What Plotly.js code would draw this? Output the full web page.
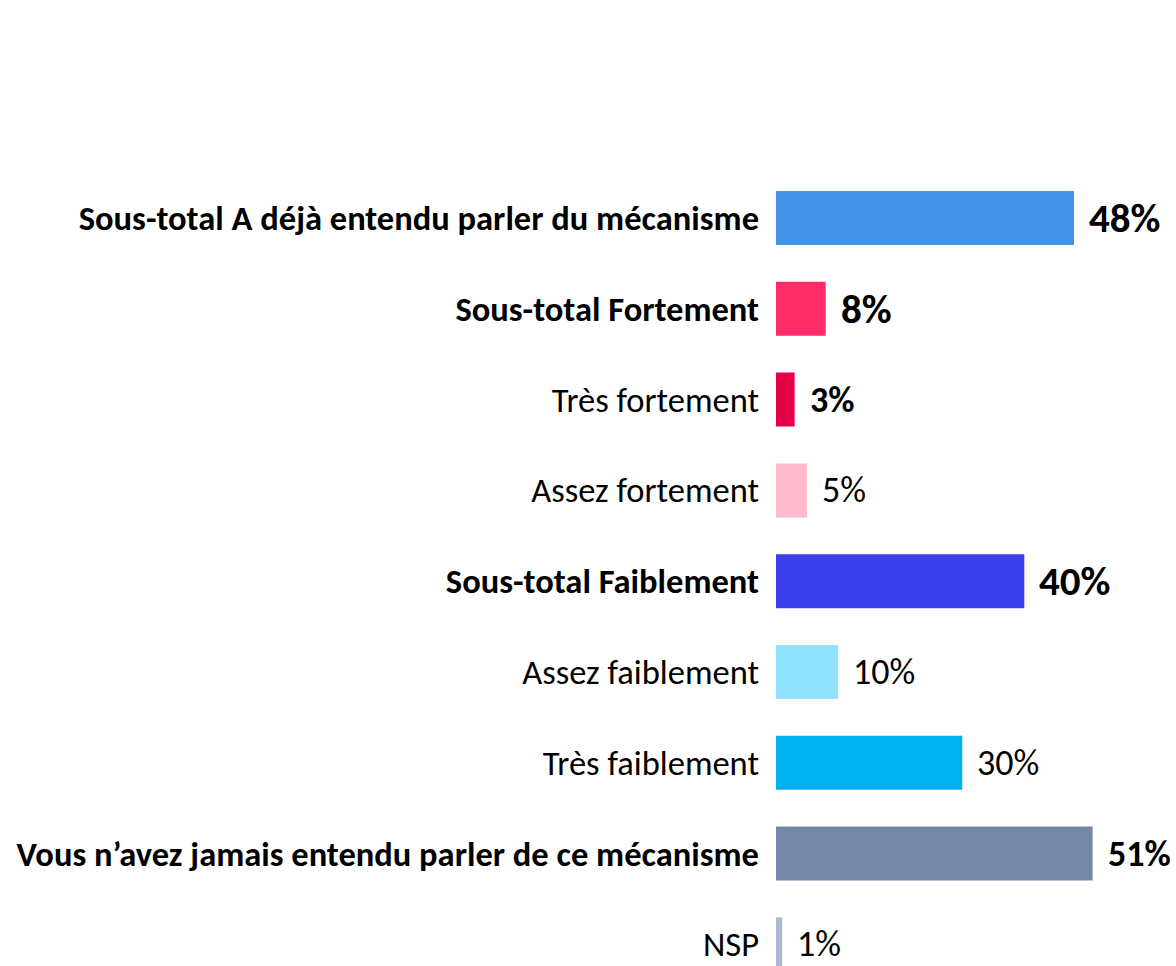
<!DOCTYPE html>
<html>
<head>
<meta charset="utf-8">
<script src="https://cdn.plot.ly/plotly-3.0.1.min.js"></script>
<style>html,body{margin:0;padding:0;background:#fff;}#chart{width:1176px;height:966px;}</style>
</head>
<body>
<div id="chart"></div>
<script>
// ---- data ----
const categories = [
  "Sous-total A déjà entendu parler du mécanisme",
  "Sous-total Fortement",
  "Très fortement",
  "Assez fortement",
  "Sous-total Faiblement",
  "Assez faiblement",
  "Très faiblement",
  "Vous n’avez jamais entendu parler de ce mécanisme",
  "NSP"
];
const values = [48, 8, 3, 5, 40, 10, 30, 51, 1];
const valueLabels = ["48%", "8%", "3%", "5%", "40%", "10%", "30%", "51%", "1%"];

// ---- styles ----
const barColors = ["#4193E7", "#FF2C69", "#E60048", "#FFBACD", "#3D3EEC", "#91E2FF", "#00B0F0", "#7487A5", "#ADB9CE"];
const labelBold = [true, true, false, false, true, false, false, true, false];
const valueBold = [true, true, true, false, true, false, false, true, false];
const valueBig  = [true, true, false, false, true, false, false, false, false];

const FONT = "Calibri, Carlito, Lato, sans-serif";
const tickText = categories.map((c, i) => labelBold[i] ? "<b>" + c + "</b>" : c);

const annotations = values.map((v, i) => ({
  x: v, y: categories[i], xref: "x", yref: "y",
  text: valueBold[i] ? "<b>" + valueLabels[i] + "</b>" : valueLabels[i],
  showarrow: false, xanchor: "left", yanchor: "middle", xshift: 13,
  font: {family: FONT, size: valueBig[i] ? 41 : 36, color: "#000"}
}));

const trace = {
  type: "bar", orientation: "h",
  x: values, y: categories,
  marker: {color: barColors},
  width: 0.595,
  hoverinfo: "skip"
};

const layout = {
  width: 1176, height: 966,
  margin: {l: 776, r: 0, t: 0, b: 0},
  paper_bgcolor: "#fff", plot_bgcolor: "#fff",
  showlegend: false,
  xaxis: {range: [0, 64.43], visible: false, fixedrange: true},
  yaxis: {
    type: "category", categoryorder: "array", categoryarray: categories,
    range: [8.238, -2.401],
    tickmode: "array", tickvals: categories, ticktext: tickText,
    ticks: "", showgrid: false, zeroline: false, showline: false,
    ticklabelstandoff: 16,
    tickfont: {family: FONT, size: 34.5, color: "#000"},
    automargin: false, fixedrange: true
  },
  annotations: annotations,
  font: {family: FONT}
};

Plotly.newPlot("chart", [trace], layout, {displayModeBar: false, staticPlot: true});
</script>
</body>
</html>
